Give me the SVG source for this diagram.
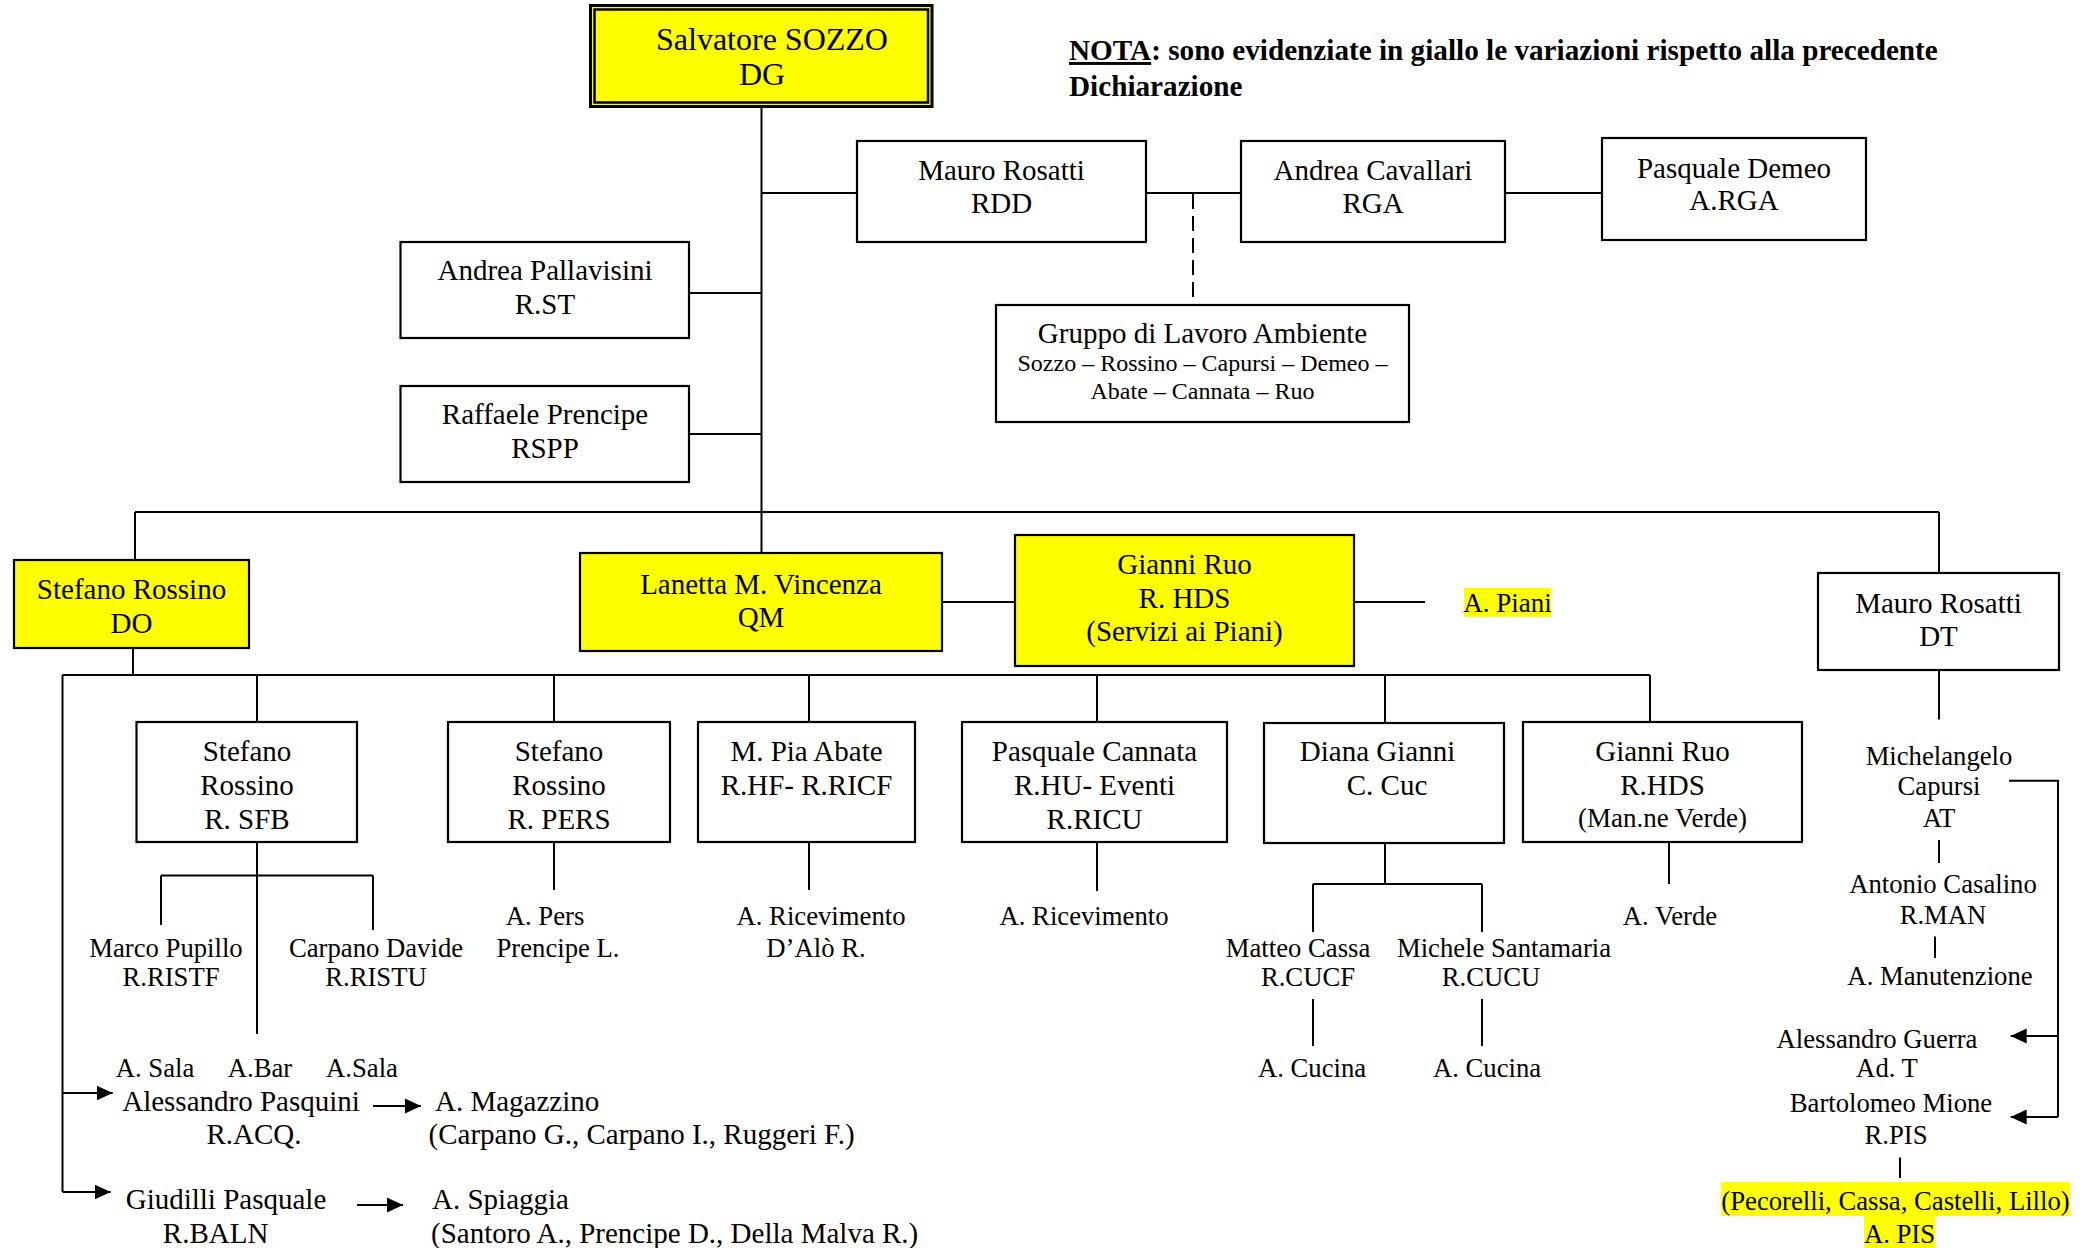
<svg xmlns="http://www.w3.org/2000/svg" width="2087" height="1248" viewBox="0 0 2087 1248">
<defs>
<style>
.box{fill:#fff;stroke:#000;stroke-width:2.2}
.ybox{fill:#ffff00;stroke:#000;stroke-width:2.2}
.hl{fill:#ffff00;stroke:none}
.t{font-family:"Liberation Serif","Times New Roman",serif;font-size:29px;text-anchor:middle;fill:#000}
.st{text-anchor:start}
.sm{font-size:24px}
.md{font-size:27px}
.lb{font-size:26.7px}
.b{font-weight:bold;font-size:29.2px}
.ln{stroke:#000;stroke-width:2;fill:none}
.dash{stroke-dasharray:15 7}
</style>
<marker id="arr" markerUnits="userSpaceOnUse" markerWidth="16" markerHeight="16" refX="16" refY="8" orient="auto">
<path d="M0,0.5 L16,8 L0,15.5 z" fill="#000"/>
</marker>
</defs>
<rect width="2087" height="1248" fill="#fff"/>

<g id="connectors">
<line class="ln" x1="761.5" y1="107" x2="761.5" y2="553"/>
<line class="ln" x1="761.5" y1="193" x2="857" y2="193"/>
<line class="ln" x1="1146" y1="193" x2="1241" y2="193"/>
<line class="ln" x1="1505" y1="193" x2="1602" y2="193"/>
<line class="ln dash" x1="1193" y1="194" x2="1193" y2="304"/>
<line class="ln" x1="689" y1="293" x2="761.5" y2="293"/>
<line class="ln" x1="689" y1="434" x2="761.5" y2="434"/>
<line class="ln" x1="135" y1="512" x2="1939" y2="512"/>
<line class="ln" x1="135" y1="512" x2="135" y2="560"/>
<line class="ln" x1="1939" y1="512" x2="1939" y2="573"/>
<line class="ln" x1="942" y1="602" x2="1015" y2="602"/>
<line class="ln" x1="1354" y1="602" x2="1425" y2="602"/>
<line class="ln" x1="133" y1="648" x2="133" y2="675"/>
<line class="ln" x1="62.5" y1="675" x2="1650" y2="675"/>
<line class="ln" x1="62.5" y1="675" x2="62.5" y2="1192"/>
<line class="ln" x1="62.5" y1="1093" x2="112.7" y2="1093" marker-end="url(#arr)"/>
<line class="ln" x1="62.5" y1="1192" x2="110.7" y2="1192" marker-end="url(#arr)"/>
<line class="ln" x1="257" y1="675" x2="257" y2="722"/>
<line class="ln" x1="554" y1="675" x2="554" y2="722"/>
<line class="ln" x1="809" y1="675" x2="809" y2="722"/>
<line class="ln" x1="1097" y1="675" x2="1097" y2="722"/>
<line class="ln" x1="1385" y1="675" x2="1385" y2="723"/>
<line class="ln" x1="1650" y1="675" x2="1650" y2="722"/>
<line class="ln" x1="257" y1="842" x2="257" y2="1034"/>
<line class="ln" x1="161" y1="875.5" x2="373" y2="875.5"/>
<line class="ln" x1="161" y1="875.5" x2="161" y2="925"/>
<line class="ln" x1="373" y1="875.5" x2="373" y2="930"/>
<line class="ln" x1="554" y1="842" x2="554" y2="890"/>
<line class="ln" x1="809" y1="842" x2="809" y2="890"/>
<line class="ln" x1="1097" y1="842" x2="1097" y2="891"/>
<line class="ln" x1="1385" y1="843" x2="1385" y2="884"/>
<line class="ln" x1="1313" y1="884" x2="1482" y2="884"/>
<line class="ln" x1="1313" y1="884" x2="1313" y2="932"/>
<line class="ln" x1="1482" y1="884" x2="1482" y2="932"/>
<line class="ln" x1="1313" y1="999" x2="1313" y2="1046"/>
<line class="ln" x1="1482" y1="999" x2="1482" y2="1046"/>
<line class="ln" x1="1669" y1="842" x2="1669" y2="884"/>
<line class="ln" x1="1939" y1="670" x2="1939" y2="719.5"/>
<line class="ln" x1="1939" y1="840" x2="1939" y2="863"/>
<line class="ln" x1="1935" y1="936.5" x2="1935" y2="958"/>
<line class="ln" x1="1900" y1="1157.5" x2="1900" y2="1178"/>
<polyline class="ln" points="2009,780.7 2058,780.7 2058,1117"/>
<line class="ln" x1="2058" y1="1036" x2="2010.7" y2="1036" marker-end="url(#arr)"/>
<line class="ln" x1="2058" y1="1117" x2="2010.7" y2="1117" marker-end="url(#arr)"/>
<line class="ln" x1="373" y1="1106" x2="421" y2="1106" marker-end="url(#arr)"/>
<line class="ln" x1="357" y1="1205" x2="403" y2="1205" marker-end="url(#arr)"/>
</g>

<g id="nota">
<text class="t st b" x="1069" y="60"><tspan text-decoration="underline">NOTA</tspan>: sono evidenziate in giallo le variazioni rispetto alla precedente</text>
<text class="t st b" x="1069" y="96">Dichiarazione</text>
</g>

<g id="dg">
<rect x="590.5" y="5.5" width="341.5" height="101" fill="#ffff00" stroke="#000" stroke-width="3"/>
<rect x="594.5" y="9.5" width="333.5" height="93" fill="#ffff00" stroke="#000" stroke-width="2.5"/>
<text class="t" x="772" y="50" style="font-size:32px">Salvatore SOZZO</text>
<text class="t" x="762" y="85" style="font-size:32px">DG</text>
</g>

<g id="rdd">
<rect class="box" x="857" y="141" width="289" height="101"/>
<text class="t" x="1001.5" y="180">Mauro Rosatti</text>
<text class="t" x="1001.5" y="213">RDD</text>
</g>

<g id="rga">
<rect class="box" x="1241" y="141" width="264" height="101"/>
<text class="t" x="1373" y="180">Andrea Cavallari</text>
<text class="t" x="1373" y="213">RGA</text>
</g>

<g id="arga">
<rect class="box" x="1602" y="138" width="264" height="102"/>
<text class="t" x="1734" y="178">Pasquale Demeo</text>
<text class="t" x="1734" y="210">A.RGA</text>
</g>

<g id="gruppo">
<rect class="box" x="996" y="305" width="413" height="117"/>
<text class="t" x="1202.5" y="343">Gruppo di Lavoro Ambiente</text>
<text class="t sm" x="1202.5" y="371">Sozzo – Rossino – Capursi – Demeo –</text>
<text class="t sm" x="1202.5" y="399">Abate – Cannata – Ruo</text>
</g>

<g id="rst">
<rect class="box" x="400.5" y="242" width="288.5" height="96"/>
<text class="t" x="545" y="280">Andrea Pallavisini</text>
<text class="t" x="545" y="314">R.ST</text>
</g>

<g id="rspp">
<rect class="box" x="400.5" y="386" width="288.5" height="96"/>
<text class="t" x="545" y="424">Raffaele Prencipe</text>
<text class="t" x="545" y="458">RSPP</text>
</g>

<g id="do">
<rect class="ybox" x="14" y="560" width="235" height="88"/>
<text class="t" x="131.5" y="599">Stefano Rossino</text>
<text class="t" x="131.5" y="633">DO</text>
</g>

<g id="qm">
<rect class="ybox" x="580" y="553" width="362" height="98"/>
<text class="t" x="761" y="594">Lanetta M. Vincenza</text>
<text class="t" x="761" y="627">QM</text>
</g>

<g id="hds">
<rect class="ybox" x="1015" y="535" width="339" height="131"/>
<text class="t" x="1184.5" y="574">Gianni Ruo</text>
<text class="t" x="1184.5" y="608">R. HDS</text>
<text class="t" x="1184.5" y="641">(Servizi ai Piani)</text>
</g>

<g id="apiani">
<rect class="hl" x="1464" y="588" width="87" height="29"/>
<text class="t md" x="1507.5" y="612">A. Piani</text>
</g>

<g id="dt">
<rect class="box" x="1818" y="573" width="241" height="97"/>
<text class="t" x="1938.5" y="613">Mauro Rosatti</text>
<text class="t" x="1938.5" y="646">DT</text>
</g>

<g id="sfb">
<rect class="box" x="136.5" y="722" width="220.5" height="120"/>
<text class="t" x="247" y="761">Stefano</text>
<text class="t" x="247" y="795">Rossino</text>
<text class="t" x="247" y="829">R. SFB</text>
</g>

<g id="pers">
<rect class="box" x="448" y="722" width="222" height="120"/>
<text class="t" x="559" y="761">Stefano</text>
<text class="t" x="559" y="795">Rossino</text>
<text class="t" x="559" y="829">R. PERS</text>
</g>

<g id="abate">
<rect class="box" x="698" y="722" width="217" height="120"/>
<text class="t" x="806.5" y="761">M. Pia Abate</text>
<text class="t" x="806.5" y="795">R.HF- R.RICF</text>
</g>

<g id="cannata">
<rect class="box" x="962" y="722" width="265" height="120"/>
<text class="t" x="1094.5" y="761">Pasquale Cannata</text>
<text class="t" x="1094.5" y="795">R.HU- Eventi</text>
<text class="t" x="1094.5" y="829">R.RICU</text>
</g>

<g id="diana">
<rect class="box" x="1264" y="723" width="240" height="120"/>
<text class="t" x="1377.5" y="761">Diana Gianni</text>
<text class="t" x="1387" y="795">C. Cuc</text>
</g>

<g id="verde">
<rect class="box" x="1523" y="722" width="279" height="120"/>
<text class="t" x="1662.5" y="761">Gianni Ruo</text>
<text class="t" x="1662.5" y="795">R.HDS</text>
<text class="t md" x="1662.5" y="827">(Man.ne Verde)</text>
</g>

<g id="pupillo">
<text class="t lb" x="166" y="957">Marco Pupillo</text>
<text class="t lb" x="171" y="986">R.RISTF</text>
</g>
<g id="carpano">
<text class="t lb" x="376" y="957">Carpano Davide</text>
<text class="t lb" x="376" y="986">R.RISTU</text>
</g>
<g id="apers">
<text class="t lb" x="545" y="925">A. Pers</text>
<text class="t lb" x="558" y="957">Prencipe L.</text>
</g>
<g id="aric1">
<text class="t lb" x="821" y="925">A. Ricevimento</text>
<text class="t lb" x="816" y="957">D’Alò R.</text>
</g>
<g id="aric2">
<text class="t lb" x="1084" y="925">A. Ricevimento</text>
</g>
<g id="cassa">
<text class="t lb" x="1298" y="957">Matteo Cassa</text>
<text class="t lb" x="1308" y="986">R.CUCF</text>
</g>
<g id="santamaria">
<text class="t lb" x="1504" y="957">Michele Santamaria</text>
<text class="t lb" x="1491" y="986">R.CUCU</text>
</g>
<g id="cucina1"><text class="t lb" x="1312" y="1077">A. Cucina</text></g>
<g id="cucina2"><text class="t lb" x="1487" y="1077">A. Cucina</text></g>
<g id="averde"><text class="t lb" x="1670" y="925">A. Verde</text></g>
<g id="sale">
<text class="t lb" x="155" y="1077">A. Sala</text>
<text class="t lb" x="260" y="1077">A.Bar</text>
<text class="t lb" x="362" y="1077">A.Sala</text>
</g>
<g id="pasquini">
<text class="t" x="241" y="1111">Alessandro Pasquini</text>
<text class="t" x="254" y="1144">R.ACQ.</text>
</g>
<g id="magazzino">
<text class="t st" x="435" y="1111">A. Magazzino</text>
<text class="t st" x="428.6" y="1144">(Carpano G., Carpano I., Ruggeri F.)</text>
</g>
<g id="giudilli">
<text class="t" x="226" y="1209">Giudilli Pasquale</text>
<text class="t" x="215.6" y="1243">R.BALN</text>
</g>
<g id="spiaggia">
<text class="t st" x="432" y="1209">A. Spiaggia</text>
<text class="t st" x="431" y="1243">(Santoro A., Prencipe D., Della Malva R.)</text>
</g>
<g id="capursi">
<text class="t lb" x="1939" y="765">Michelangelo</text>
<text class="t lb" x="1939" y="795">Capursi</text>
<text class="t lb" x="1939" y="827">AT</text>
</g>
<g id="casalino">
<text class="t lb" x="1943" y="893">Antonio Casalino</text>
<text class="t lb" x="1943" y="924">R.MAN</text>
</g>
<g id="manutenzione"><text class="t lb" x="1940" y="985">A. Manutenzione</text></g>
<g id="guerra">
<text class="t lb" x="1877" y="1048">Alessandro Guerra</text>
<text class="t lb" x="1887" y="1077">Ad. T</text>
</g>
<g id="mione">
<text class="t lb" x="1891" y="1112">Bartolomeo Mione</text>
<text class="t lb" x="1896" y="1144">R.PIS</text>
</g>
<g id="apis">
<rect class="hl" x="1721" y="1182" width="349" height="34"/>
<rect class="hl" x="1864" y="1216" width="71" height="32"/>
<text class="t lb" x="1895.5" y="1210">(Pecorelli, Cassa, Castelli, Lillo)</text>
<text class="t lb" x="1899.5" y="1243">A. PIS</text>
</g>
</svg>
